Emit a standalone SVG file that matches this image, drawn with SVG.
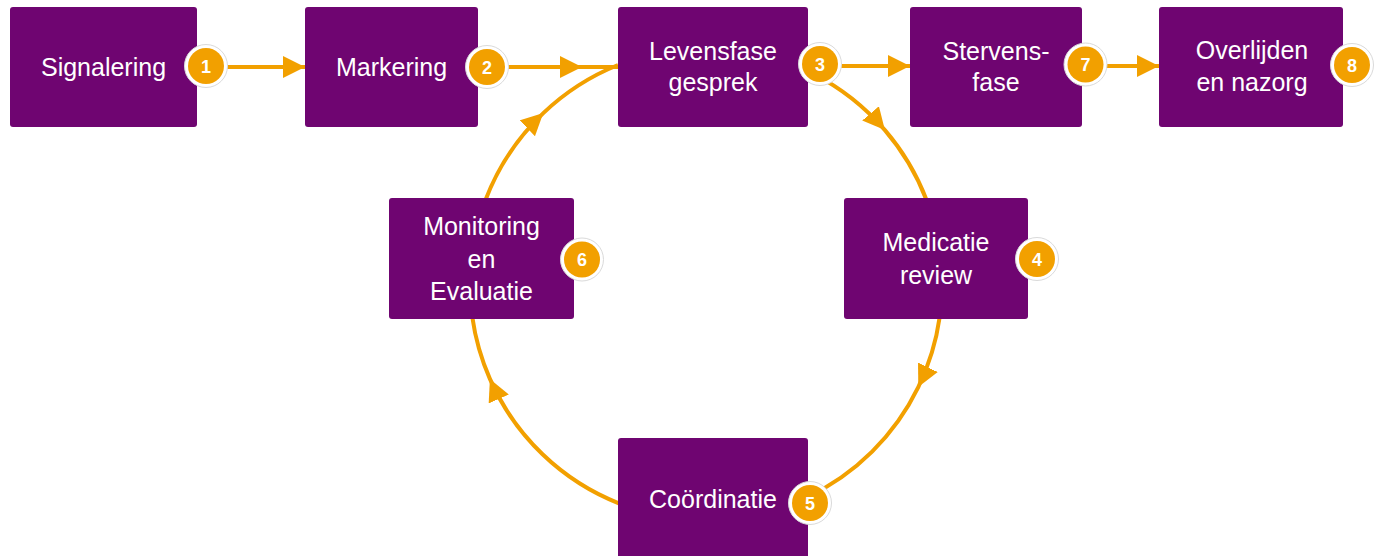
<svg xmlns="http://www.w3.org/2000/svg" width="1379" height="556" viewBox="0 0 1379 556">
  <style>
    .box { fill: #6F0571; }
    .label { fill: #FFFFFF; font-family: "Liberation Sans", Arial, sans-serif; font-size: 25px; text-anchor: middle; }
    .badge-ring { fill: #FFFFFF; stroke: #DADADA; stroke-width: 1; }
    .badge { fill: #F2A000; }
    .badge-num { fill: #FFFFFF; font-family: "Liberation Sans", Arial, sans-serif; font-size: 18px; font-weight: bold; text-anchor: middle; }
    .link { fill: none; stroke: #F2A000; stroke-width: 4; }
  </style>
  <defs>
    <marker id="arrow" viewBox="0 0 22 22" markerUnits="userSpaceOnUse" markerWidth="22" markerHeight="22" refX="22" refY="11" orient="auto">
      <path d="M0,0 L22,11 L0,22 Z" fill="#F2A000"/>
    </marker>
  </defs>
  <rect width="1379" height="556" fill="#FFFFFF"/>

  <!-- connectors -->
  <g id="connectors">
    <path class="link" d="M226,67 L305,67" marker-end="url(#arrow)"/>
    <path class="link" d="M508,67 L582,67 L618,67" marker-mid="url(#arrow)"/>
    <path class="link" d="M841,66 L910,66" marker-end="url(#arrow)"/>
    <path class="link" d="M1106,66 L1159,66" marker-end="url(#arrow)"/>
    <!-- care cycle: arcs around a common centre (706,284), r=236 -->
    <path class="link" d="M813.1,73.7 A236,236 0 0 1 884.9,130.1 A236,236 0 0 1 926.5,200" marker-mid="url(#arrow)"/>
    <path class="link" d="M939.7,317 A236,236 0 0 1 918.3,387.1 A236,236 0 0 1 807.2,497.1" marker-mid="url(#arrow)"/>
    <path class="link" d="M620,503.8 A236,236 0 0 1 489.9,378.9 A236,236 0 0 1 472.3,317" marker-mid="url(#arrow)"/>
    <path class="link" d="M485.5,200 A236,236 0 0 1 543.3,113.1 A236,236 0 0 1 618,65" marker-mid="url(#arrow)"/>
  </g>

  <!-- nodes -->
  <g id="node-signalering">
    <rect class="box" x="10" y="7" width="187" height="120" rx="3"/>
    <text class="label" x="103.5" y="76">Signalering</text>
    <circle class="badge-ring" cx="206" cy="66" r="21.5"/>
    <circle class="badge" cx="206" cy="66" r="18"/>
    <text class="badge-num" x="206" y="72.5">1</text>
  </g>
  <g id="node-markering">
    <rect class="box" x="305" y="7" width="173" height="120" rx="3"/>
    <text class="label" x="391.5" y="76">Markering</text>
    <circle class="badge-ring" cx="487" cy="67" r="21.5"/>
    <circle class="badge" cx="487" cy="67" r="18"/>
    <text class="badge-num" x="487" y="73.5">2</text>
  </g>
  <g id="node-levensfase">
    <rect class="box" x="618" y="7" width="190" height="120" rx="3"/>
    <text class="label" x="713" y="60">Levensfase</text>
    <text class="label" x="713" y="91">gesprek</text>
    <circle class="badge-ring" cx="820" cy="64" r="21.5"/>
    <circle class="badge" cx="820" cy="64" r="18"/>
    <text class="badge-num" x="820" y="70.5">3</text>
  </g>
  <g id="node-medicatie">
    <rect class="box" x="844" y="198" width="184" height="121" rx="3"/>
    <text class="label" x="936" y="251">Medicatie</text>
    <text class="label" x="936" y="284">review</text>
    <circle class="badge-ring" cx="1037" cy="259" r="21.5"/>
    <circle class="badge" cx="1037" cy="259" r="18"/>
    <text class="badge-num" x="1037" y="265.5">4</text>
  </g>
  <g id="node-coordinatie">
    <rect class="box" x="618" y="438" width="190" height="125" rx="3"/>
    <text class="label" x="713" y="508">Coördinatie</text>
    <circle class="badge-ring" cx="810" cy="503" r="21.5"/>
    <circle class="badge" cx="810" cy="503" r="18"/>
    <text class="badge-num" x="810" y="509.5">5</text>
  </g>
  <g id="node-monitoring">
    <rect class="box" x="389" y="198" width="185" height="121" rx="3"/>
    <text class="label" x="481.5" y="235">Monitoring</text>
    <text class="label" x="481.5" y="268">en</text>
    <text class="label" x="481.5" y="300">Evaluatie</text>
    <circle class="badge-ring" cx="582" cy="259.5" r="21.5"/>
    <circle class="badge" cx="582" cy="259.5" r="18"/>
    <text class="badge-num" x="582" y="266">6</text>
  </g>
  <g id="node-stervensfase">
    <rect class="box" x="910" y="7" width="172" height="120" rx="3"/>
    <text class="label" x="996" y="60">Stervens-</text>
    <text class="label" x="996" y="91">fase</text>
    <circle class="badge-ring" cx="1085.5" cy="64.5" r="21.5"/>
    <circle class="badge" cx="1085.5" cy="64.5" r="18"/>
    <text class="badge-num" x="1085.5" y="71">7</text>
  </g>
  <g id="node-overlijden">
    <rect class="box" x="1159" y="7" width="184" height="120" rx="3"/>
    <text class="label" x="1252" y="59">Overlijden</text>
    <text class="label" x="1252" y="91">en nazorg</text>
    <circle class="badge-ring" cx="1352" cy="65" r="21.5"/>
    <circle class="badge" cx="1352" cy="65" r="18"/>
    <text class="badge-num" x="1352" y="71.5">8</text>
  </g>
</svg>
